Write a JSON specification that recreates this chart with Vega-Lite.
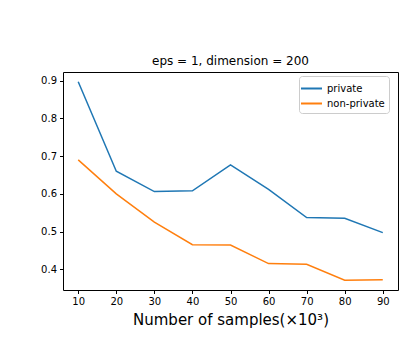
{
  "$schema": "https://vega.github.io/schema/vega-lite/v6.json",
  "width": 335,
  "height": 218,
  "autosize": {"type": "none"},
  "padding": {"left": 63, "top": 72, "right": 6, "bottom": 70},
  "background": "white",
  "title": {"text": "eps = 1, dimension = 200", "font": "DejaVu Sans", "fontSize": 12, "fontWeight": "normal", "color": "#000", "offset": 4, "anchor": "middle"},
  "config": {
    "view": {"stroke": "#000", "strokeWidth": 1},
    "axis": {"grid": false, "domain": false, "tickColor": "#000", "tickSize": 3.5, "labelFont": "DejaVu Sans", "labelFontSize": 10, "labelColor": "#000", "labelPadding": 3}
  },
  "data": {"values": [
    {"n": 10, "v": 0.897, "s": "private"},
    {"n": 20, "v": 0.66, "s": "private"},
    {"n": 30, "v": 0.606, "s": "private"},
    {"n": 40, "v": 0.608, "s": "private"},
    {"n": 50, "v": 0.677, "s": "private"},
    {"n": 60, "v": 0.612, "s": "private"},
    {"n": 70, "v": 0.537, "s": "private"},
    {"n": 80, "v": 0.535, "s": "private"},
    {"n": 90, "v": 0.497, "s": "private"},
    {"n": 10, "v": 0.69, "s": "non-private"},
    {"n": 20, "v": 0.60, "s": "non-private"},
    {"n": 30, "v": 0.525, "s": "non-private"},
    {"n": 40, "v": 0.465, "s": "non-private"},
    {"n": 50, "v": 0.464, "s": "non-private"},
    {"n": 60, "v": 0.415, "s": "non-private"},
    {"n": 70, "v": 0.413, "s": "non-private"},
    {"n": 80, "v": 0.371, "s": "non-private"},
    {"n": 90, "v": 0.372, "s": "non-private"}
  ]},
  "mark": {"type": "line", "strokeWidth": 1.5},
  "encoding": {
    "x": {"field": "n", "type": "quantitative", "scale": {"domain": [6, 94], "nice": false, "zero": false},
      "axis": {"values": [10, 20, 30, 40, 50, 60, 70, 80, 90], "title": "Number of samples(×10³)", "titleFont": "DejaVu Sans", "titleFontSize": 15, "titleFontWeight": "normal", "titleColor": "#000", "titlePadding": 6}},
    "y": {"field": "v", "type": "quantitative", "scale": {"domain": [0.345, 0.923], "nice": false, "zero": false},
      "axis": {"values": [0.4, 0.5, 0.6, 0.7, 0.8, 0.9], "format": ".1f", "title": null}},
    "color": {"field": "s", "type": "nominal", "sort": ["private", "non-private"],
      "scale": {"domain": ["private", "non-private"], "range": ["#1f77b4", "#ff7f0e"]},
      "legend": {"title": null, "orient": "none", "legendX": 236, "legendY": 4, "symbolType": "M-1.4,0H1.4", "symbolSize": 225, "symbolStrokeWidth": 2, "labelFont": "DejaVu Sans", "labelFontSize": 10, "labelColor": "#000", "labelOffset": 7, "strokeColor": "#ccc", "fillColor": "white", "cornerRadius": 3, "padding": 4, "rowPadding": 1}}
  }
}
